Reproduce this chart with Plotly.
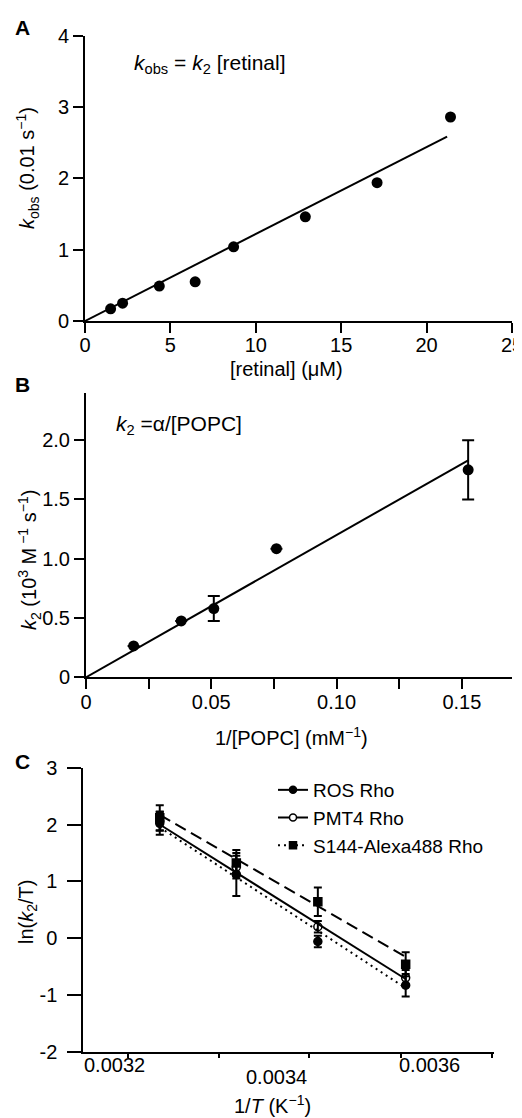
import plotly.graph_objects as go

# the page puts the figure 8 px in from the top-left corner
OFF = 8
W, H = 522 - OFF, 1118 - OFF

# panel A: observed rate vs retinal
a_x = [1.5, 2.2, 4.35, 6.45, 8.7, 12.9, 17.1, 21.4]
a_y = [0.17, 0.25, 0.49, 0.55, 1.04, 1.46, 1.94, 2.86]
a_fit_x = [0, 21.2]
a_fit_y = [0, 2.585]

# panel B: k2 vs 1/[POPC]
b_x = [0.019, 0.038, 0.051, 0.076, 0.1525]
b_y = [0.265, 0.475, 0.58, 1.085, 1.75]
b_err = [None, None, 0.105, None, 0.25]
b_fit_x = [0, 0.1525]
b_fit_y = [0, 1.83]
b_ticks = [0, 0.025, 0.05, 0.075, 0.10, 0.125, 0.15]
b_ticktext = ["0", "", "0.05", "", "0.10", "", "0.15"]

# panel C: Arrhenius-type plot
c_x = [0.003245, 0.003354, 0.003470, 0.003595]
ros_y = [2.02, 1.12, -0.06, -0.83]
ros_err = [0.2, 0.38, 0.10, 0.2]
pmt4_y = [2.06, 1.25, 0.20, -0.70]
pmt4_err = [0.17, 0.20, 0.10, 0.14]
s144_y = [2.12, 1.32, 0.64, -0.46]
s144_err = [0.22, 0.23, 0.25, 0.21]
fit_x = [0.003245, 0.003595]
ros_fit = [2.00, -0.72]
pmt4_fit = [2.17, -0.33]
s144_fit = [1.95, -0.88]
c_tickmarks = [0.0032, 0.003329, 0.003458, 0.003588, 0.003718]
c_label_x = [0.00318, 0.003411, 0.003629]
c_label_text = ["0.0032", "0.0034", "0.0036"]
c_label_ypx = [1065, 1077, 1065]
c_yticks = [-2, -1, 0, 1, 2, 3]
c_yticktext = ["-2", "-1", "0", "1", "2", "3"]


def px(x):
    return (x - OFF) / W


def py(y):
    return 1 - (y - OFF) / H


FONT = "Arial, Liberation Sans, Helvetica, sans-serif"
BLACK = "black"

fig = go.Figure()

# A
fig.add_trace(go.Scatter(x=a_fit_x, y=a_fit_y, mode="lines", line=dict(color=BLACK, width=2),
                         xaxis="x", yaxis="y", showlegend=False))
fig.add_trace(go.Scatter(x=a_x, y=a_y, mode="markers", marker=dict(color=BLACK, size=11),
                         xaxis="x", yaxis="y", showlegend=False, cliponaxis=False))

# B
fig.add_trace(go.Scatter(x=b_fit_x, y=b_fit_y, mode="lines", line=dict(color=BLACK, width=2),
                         xaxis="x2", yaxis="y2", showlegend=False))
fig.add_trace(go.Scatter(x=b_x, y=b_y, mode="markers", marker=dict(color=BLACK, size=11),
                         error_y=dict(type="data", array=b_err, color=BLACK, thickness=2, width=6),
                         xaxis="x2", yaxis="y2", showlegend=False, cliponaxis=False))

# C fits
fig.add_trace(go.Scatter(x=fit_x, y=ros_fit, mode="lines", line=dict(color=BLACK, width=2),
                         xaxis="x3", yaxis="y3", showlegend=False))
fig.add_trace(go.Scatter(x=fit_x, y=pmt4_fit, mode="lines",
                         line=dict(color=BLACK, width=2, dash="12px,6px"),
                         xaxis="x3", yaxis="y3", showlegend=False))
fig.add_trace(go.Scatter(x=fit_x, y=s144_fit, mode="lines",
                         line=dict(color=BLACK, width=2, dash="2px,4px"),
                         xaxis="x3", yaxis="y3", showlegend=False))

# C points
series = [
    ("ROS Rho", ros_y, ros_err, "circle", None),
    ("PMT4 Rho", pmt4_y, pmt4_err, "circle-open", "12px,6px"),
    ("S144-Alexa488 Rho", s144_y, s144_err, "square", "2px,4px"),
]
for name, ys, errs, sym, dash in series:
    fig.add_trace(go.Scatter(x=c_x, y=ys, mode="markers",
                             marker=dict(color=BLACK, size=8, symbol=sym, line=dict(width=1.5, color=BLACK)),
                             error_y=dict(type="data", array=errs, color=BLACK, thickness=2, width=4),
                             xaxis="x3", yaxis="y3", showlegend=False))
for name, ys, errs, sym, dash in series:
    fig.add_trace(go.Scatter(x=[None], y=[None], mode="lines+markers", name=name,
                             marker=dict(color=BLACK, size=7, symbol=sym, line=dict(width=1.5, color=BLACK)),
                             line=dict(color=BLACK, width=2, dash=dash),
                             xaxis="x3", yaxis="y3"))

axis_common = dict(showline=True, linecolor=BLACK, linewidth=2, ticks="outside",
                   tickcolor=BLACK, tickwidth=2, showgrid=False, zeroline=False,
                   automargin=False, ticklabeloverflow="allow",
                   tickfont=dict(family=FONT, size=20, color=BLACK))

fig.update_layout(
    width=W, height=H,
    margin=dict(l=0, r=0, t=0, b=0),
    paper_bgcolor="white", plot_bgcolor="white",
    font=dict(family=FONT, size=20, color=BLACK),
    xaxis=dict(axis_common, domain=[px(85), px(512)], range=[0, 25], anchor="y",
               tickvals=[0, 5, 10, 15, 20, 25], ticklen=10, ticklabelstandoff=-5),
    yaxis=dict(axis_common, domain=[py(321), py(35.7)], range=[0, 4], anchor="x",
               tickvals=[0, 1, 2, 3, 4], ticklen=10),
    xaxis2=dict(axis_common, domain=[px(86), px(512)], range=[0, 0.17], anchor="y2",
                tickvals=b_ticks, ticktext=b_ticktext, ticklen=10, ticklabelstandoff=-4),
    yaxis2=dict(axis_common, domain=[py(677.3), py(393.3)], range=[0, 2.395], anchor="x2",
                tickvals=[0, 0.5, 1.0, 1.5, 2.0], ticktext=["0", "0.5", "1.0", "1.5", "2.0"], ticklen=10),
    xaxis3=dict(axis_common, domain=[px(83.3), px(493.5)], range=[0.0031362, 0.00372], anchor="y3",
                tickvals=c_tickmarks, ticktext=[""] * len(c_tickmarks), ticklen=4),
    yaxis3=dict(axis_common, domain=[py(1051.7), py(767.7)], range=[-2, 3], anchor="x3",
                tickvals=c_yticks, ticktext=c_yticktext, ticklen=14, ticklabelstandoff=6),
    legend=dict(x=px(273), y=py(771), xanchor="left", yanchor="top",
                bgcolor="rgba(0,0,0,0)", font=dict(family=FONT, size=19, color=BLACK),
                tracegroupgap=0, itemwidth=30),
)

ann = []


def add_text(text, x, y, size=20, angle=0, xanchor="center", bold=False):
    ann.append(dict(text="<b>%s</b>" % text if bold else text, x=px(x), y=py(y),
                    xref="paper", yref="paper", showarrow=False, textangle=angle,
                    xanchor=xanchor, yanchor="middle",
                    font=dict(family=FONT, size=size, color=BLACK)))


add_text("A", 22, 27, size=21, bold=True)
add_text("B", 22, 385, size=21, bold=True)
add_text("C", 22, 762, size=21, bold=True)

add_text("<i>k</i><sub>obs</sub> = <i>k</i><sub>2</sub> [retinal]", 132, 64, size=21, xanchor="left")
add_text("<i>k</i><sub>2</sub> =α/[POPC]", 114, 425, size=21, xanchor="left")

add_text("[retinal] (μM)", 286, 369)
add_text("1/[POPC] (mM<sup>−1</sup>)", 291, 736)
add_text("1/<i>T</i> (K<sup>−1</sup>)", 272, 1104)

add_text("<i>k</i><sub>obs</sub> (0.01 s<sup>−1</sup>)", 28, 168, angle=-90)
add_text("<i>k</i><sub>2</sub> (10<sup>3</sup> M<sup> −1</sup> s<sup>−1</sup>)", 29, 560, angle=-90)
add_text("ln(<i>k</i><sub>2</sub>/T)", 27, 912, angle=-90)

for xv, t, ypx in zip(c_label_x, c_label_text, c_label_ypx):
    ann.append(dict(text=t, x=xv, y=py(ypx), xref="x3", yref="paper", showarrow=False,
                    xanchor="center", yanchor="middle",
                    font=dict(family=FONT, size=20, color=BLACK)))

fig.update_layout(annotations=ann)

fig.write_html("out.html")
